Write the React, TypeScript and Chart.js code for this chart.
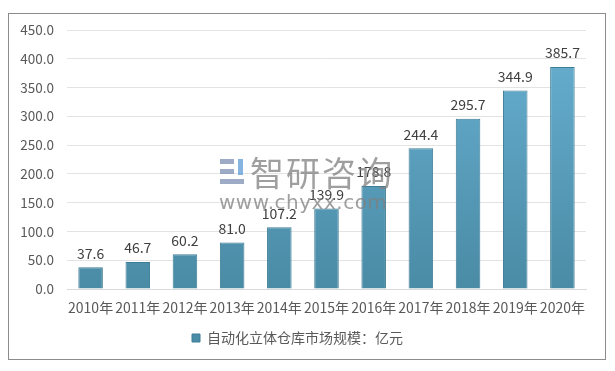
import React, { useEffect, useRef } from "react";
import { Chart, registerables } from "chart.js";

Chart.register(...registerables);

const categories = ["2010年", "2011年", "2012年", "2013年", "2014年", "2015年", "2016年", "2017年", "2018年", "2019年", "2020年"];
const marketSize = [37.6, 46.7, 60.2, 81.0, 107.2, 139.9, 178.8, 244.4, 295.7, 344.9, 385.7];
const seriesName = "自动化立体仓库市场规模：亿元";
const yTicks = [0, 50, 100, 150, 200, 250, 300, 350, 400, 450];

const FONT = "'Noto Sans CJK SC', 'DejaVu Sans', sans-serif";

const valueLabels = {
  id: "valueLabels",
  afterDatasetsDraw(chart: any) {
    const ctx = chart.ctx;
    const meta = chart.getDatasetMeta(0);
    ctx.save();
    ctx.font = `14px ${FONT}`;
    ctx.fillStyle = "#404040";
    ctx.textAlign = "center";
    ctx.textBaseline = "bottom";
    meta.data.forEach((bar: any, i: number) => {
      ctx.fillText(marketSize[i].toFixed(1), bar.x, bar.y - 7);
    });
    ctx.restore();
  },
};

export default function App() {
  const ref = useRef<HTMLCanvasElement>(null);
  useEffect(() => {
    if (!ref.current) return;
    const chart = new Chart(ref.current, {
      type: "bar",
      data: {
        labels: categories,
        datasets: [
          {
            label: seriesName,
            data: marketSize,
            backgroundColor: (c: any) => {
              const area = c.chart.chartArea;
              if (!area) return "#5aa3c3";
              const g = c.chart.ctx.createLinearGradient(0, area.top, 0, area.bottom);
              g.addColorStop(0, "#68b0d2");
              g.addColorStop(1, "#4a8ba5");
              return g;
            },
            borderColor: "#3d7c96",
            borderWidth: 1,
            categoryPercentage: 1,
            barPercentage: 0.52,
          },
        ],
      },
      options: {
        animation: false,
        responsive: false,
        maintainAspectRatio: false,
        layout: { padding: { left: 0, right: 19, top: 16, bottom: 4 } },
        plugins: {
          legend: {
            position: "bottom",
            labels: {
              font: { family: FONT, size: 14 },
              color: "#595959",
              boxWidth: 8,
              boxHeight: 8,
              padding: 8,
            },
          },
          tooltip: { enabled: false },
        },
        scales: {
          x: {
            grid: { display: false, drawTicks: false },
            border: { color: "#d9d9d9" },
            ticks: { font: { family: FONT, size: 14 }, color: "#595959", padding: 10, maxRotation: 0, autoSkip: false },
            afterFit: (s: any) => { s.height = 34; },
          },
          y: {
            min: 0,
            max: 450,
            afterBuildTicks: (s: any) => { s.ticks = yTicks.map((v) => ({ value: v })); },
            grid: { color: "#e3e3e3", drawTicks: false, lineWidth: 1 },
            border: { display: false },
            ticks: {
              font: { family: FONT, size: 13.5 },
              color: "#595959",
              padding: 13,
              callback: (v: any) => Number(v).toFixed(1),
            },
            afterFit: (s: any) => { s.width = 58; s.paddingTop = 0; s.paddingBottom = 0; },
          },
        },
      },
      plugins: [valueLabels],
    });
    return () => chart.destroy();
  }, []);

  return (
    <div style={{ position: "relative", marginTop: 5, width: 596, height: 345, border: "1px solid #8c8c8c" }}>
      <canvas ref={ref} width={596} height={345} style={{ display: "block" }} />
      <div style={{ position: "absolute", left: 211, top: 138, display: "flex", alignItems: "center", opacity: 0.75, pointerEvents: "none" }}>
        <div style={{ width: 24, height: 26, position: "relative", marginRight: 6 }}>
          <div style={{ position: "absolute", left: 0, top: 0, width: 14, height: 5, background: "#7d8fb3" }} />
          <div style={{ position: "absolute", left: 0, top: 10, width: 14, height: 5, background: "#7d8fb3" }} />
          <div style={{ position: "absolute", left: 0, top: 20, width: 24, height: 5, background: "#7d8fb3" }} />
          <div style={{ position: "absolute", left: 18, top: 0, width: 5, height: 16, background: "#5b9bd5" }} />
        </div>
        <span style={{ fontFamily: FONT, fontSize: 34, color: "#7f7f7f", letterSpacing: 2, lineHeight: "40px" }}>智研咨询</span>
      </div>
      <div style={{ position: "absolute", left: 210, top: 176, fontFamily: "'DejaVu Sans', sans-serif", fontSize: 20, color: "#7f7f7f", opacity: 0.75, letterSpacing: 0.5, pointerEvents: "none" }}>
        www.chyxx.com
      </div>
    </div>
  );
}
